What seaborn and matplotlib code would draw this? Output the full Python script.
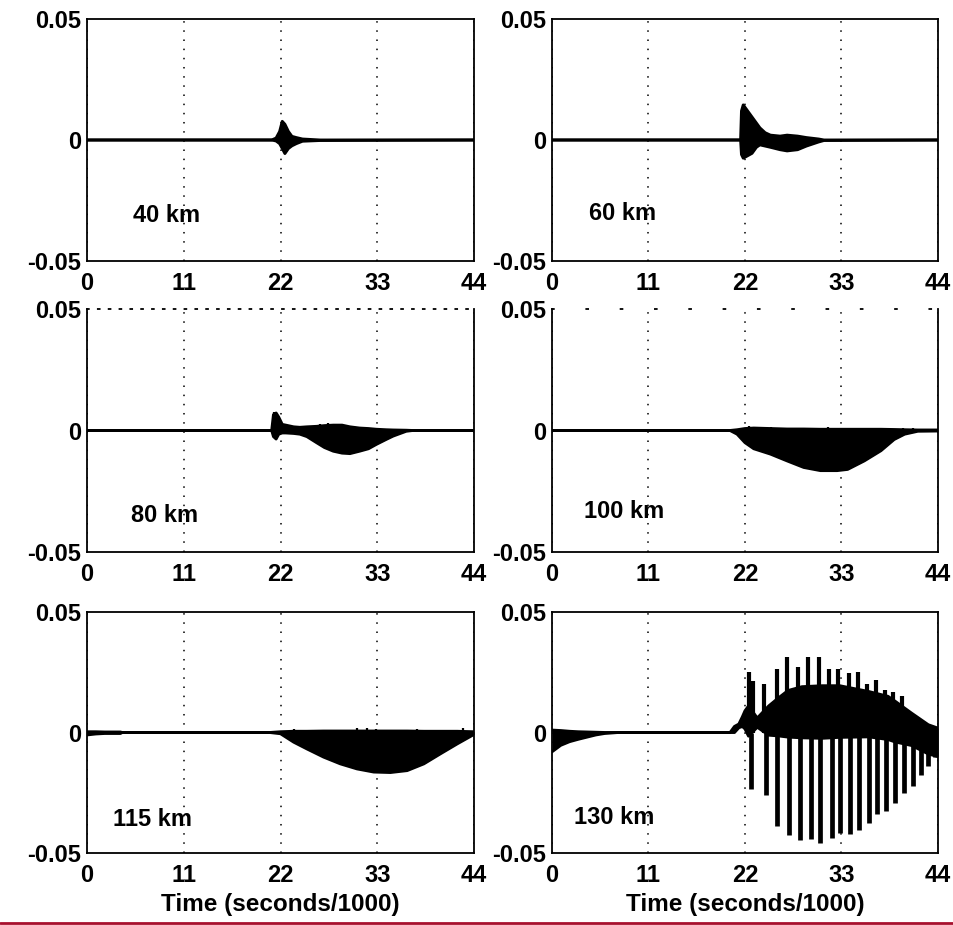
import numpy as np
import pandas as pd
import matplotlib
matplotlib.use("Agg")
import matplotlib.pyplot as plt
from matplotlib.lines import Line2D
import seaborn as sns

# ---------------- data ----------------
x_ticks = [0, 11, 22, 33, 44]
y_ticks = [-0.05, 0.0, 0.05]
y_tick_labels = ["-0.05", "0", "0.05"]
labels = ["40 km", "60 km", "80 km", "100 km", "115 km", "130 km"]
x_label = "Time (seconds/1000)"

# envelopes of the dense traces (time, upper edge, lower edge)
t40 = [0, 21.0, 21.5, 21.9, 22.2, 22.5, 22.9, 23.3, 23.8, 24.5, 26.5, 44]
hi40 = [0, 0, 0.0008, 0.0035, 0.0077, 0.0065, 0.0035, 0.0015, 0.001, 0.0004, 0, 0]
lo40 = [0, 0, -0.0004, -0.0015, -0.0035, -0.0056, -0.0035, -0.0024, -0.0015, -0.0005, -0.0002, 0]

t60 = [0, 21.5, 21.6, 21.8, 22.3, 22.8, 23.3, 23.7, 24.3, 24.9, 26.0, 26.8, 28.0, 29.0, 30.4, 31.0, 44]
hi60 = [0, 0, 0.012, 0.0145, 0.012, 0.0095, 0.007, 0.005, 0.003, 0.002, 0.0016, 0.002, 0.0016, 0.001, 0.0004, 0, 0]
lo60 = [0, 0, -0.006, -0.0075, -0.0065, -0.0055, -0.003, -0.002, -0.0025, -0.003, -0.004, -0.0045, -0.004, -0.0025, -0.0008, -0.0002, 0]

t80 = [0, 21.0, 21.2, 21.5, 21.8, 22.2, 22.6, 23.5, 24.2, 25.0, 26.1, 27.0, 28.0, 29.0, 29.9, 31.0, 32.0, 32.9, 34.0, 34.8, 36.3, 37.0, 44]
hi80 = [0, 0, 0.0065, 0.0072, 0.0055, 0.0025, 0.0022, 0.0015, 0.0013, 0.0015, 0.0017, 0.002, 0.0022, 0.0022, 0.0015, 0.001, 0.0008, 0.0005, 0.0003, 0.0002, 0.0001, 0, 0]
lo80 = [0, 0, -0.0025, -0.0035, -0.0015, -0.001, -0.001, -0.0012, -0.0015, -0.0025, -0.005, -0.007, -0.0085, -0.0093, -0.0095, -0.0085, -0.0075, -0.0057, -0.0037, -0.0023, -0.0003, 0, 0]

t100 = [0, 20.3, 21.1, 22.0, 23.0, 24.9, 26.8, 28.7, 30.6, 32.5, 33.7, 35.6, 37.5, 39.0, 40.2, 41.7, 44]
hi100 = [0, 0, 0.0003, 0.0008, 0.001, 0.0008, 0.0006, 0.0006, 0.0005, 0.0005, 0.0005, 0.0005, 0.0005, 0.0004, 0.0003, 0.0002, 0.0002]
lo100 = [0, 0, -0.0015, -0.005, -0.0075, -0.0097, -0.0125, -0.0152, -0.0165, -0.0165, -0.016, -0.0125, -0.0083, -0.0037, -0.0015, -0.0003, -0.0002]

t115 = [0, 1, 2, 3, 3.8, 4.0, 20.8, 22.0, 23.5, 25.0, 26.9, 28.8, 30.7, 32.6, 34.5, 36.4, 38.3, 40.2, 42.1, 44]
hi115 = [0.0003, 0.0003, 0.0002, 0.0002, 0.0002, 0, 0, 0.0003, 0.0005, 0.0005, 0.0006, 0.0006, 0.0006, 0.0006, 0.0006, 0.0006, 0.0005, 0.0005, 0.0005, 0.0003]
lo115 = [-0.001, -0.0006, -0.0004, -0.0004, -0.0004, 0, 0, -0.0005, -0.004, -0.0068, -0.0102, -0.013, -0.0151, -0.0164, -0.0166, -0.0158, -0.013, -0.0088, -0.0047, -0.0008]

t130 = [0, 1, 2, 3, 4, 5, 6, 7.5, 20.3, 20.8, 21.3, 21.7, 22.0, 22.4, 23.4, 24.7, 25.8, 26.9, 28.5, 30.8, 32.8, 36.1, 38.3, 39.1, 41.0, 42.9, 44]
hi130 = [0.001, 0.0008, 0.0005, 0.0003, 0.0002, 0.0001, 0.0, 0.0, 0.0, 0.0025, 0.0035, 0.0065, 0.009, 0.011, 0.006, 0.011, 0.0143, 0.0174, 0.019, 0.0194, 0.0194, 0.017, 0.015, 0.013, 0.008, 0.0032, 0.0018]
lo130 = [-0.008, -0.0053, -0.0038, -0.0028, -0.0019, -0.001, -0.0004, 0.0, 0.0, 0.0, 0.002, 0.0025, 0.0015, -0.0015, 0.0022, -0.0011, -0.0014, -0.0019, -0.0022, -0.0024, -0.002, -0.0018, -0.0029, -0.0039, -0.0054, -0.0089, -0.01]

# individual large swings of the 130 km trace
up130_t = [22.4, 22.9, 24.2, 25.6, 26.8, 28.0, 29.2, 30.4, 31.6, 32.6, 33.8, 34.9, 35.9, 36.9, 38.0, 38.9, 39.9]
up130_v = [0.0252, 0.0215, 0.0202, 0.0265, 0.0314, 0.0271, 0.0314, 0.0314, 0.0265, 0.0265, 0.0245, 0.0252, 0.0202, 0.0217, 0.0178, 0.0166, 0.0152]
lo130_t = [22.7, 24.4, 25.7, 27.05, 28.3, 29.5, 30.6, 31.9, 32.8, 34.0, 35.0, 36.1, 37.1, 38.1, 39.1, 40.1, 41.1, 42.1, 42.9, 43.7]
lo130_v = [-0.0234, -0.0261, -0.039, -0.0427, -0.0445, -0.0441, -0.0458, -0.0438, -0.0415, -0.042, -0.0405, -0.0375, -0.0337, -0.0324, -0.0293, -0.025, -0.0224, -0.0175, -0.0141, -0.0101]

# small spikes on the upper edge of the 80 / 100 / 115 km traces
up80_t = [21.3, 26.5, 27.4, 28.4, 29.5, 30.3]
up80_v = [0.0075, 0.0028, 0.003, 0.0028, 0.0024, 0.0018]
up100_t = [22.4, 23.6, 25.0, 26.4, 28.0, 29.9, 31.5, 33.2, 34.9, 36.6, 40.0, 41.2]
up100_v = [0.0018, 0.0012, 0.0014, 0.0012, 0.0008, 0.0012, 0.0016, 0.0012, 0.001, 0.0008, 0.001, 0.0012]
up115_t = [23.5, 30.7, 31.8, 32.9, 37.5, 42.8]
up115_v = [0.0014, 0.0018, 0.0018, 0.0014, 0.0014, 0.0018]
small_spikes = {2: (up80_t, up80_v), 3: (up100_t, up100_v), 4: (up115_t, up115_v)}

# label anchor (time, amplitude) for each panel
label_t = [5.2, 4.25, 4.97, 3.65, 3.0, 2.5]
label_v = [-0.031, -0.0303, -0.0348, -0.0334, -0.0363, -0.0352]

traces = [(t40, hi40, lo40), (t60, hi60, lo60), (t80, hi80, lo80),
          (t100, hi100, lo100), (t115, hi115, lo115), (t130, hi130, lo130)]

# ---------------- styling ----------------
sns.set_style("white")
plt.rcParams["font.family"] = ["Liberation Sans", "DejaVu Sans"]
plt.rcParams["font.weight"] = "bold"
plt.rcParams["text.color"] = "black"
plt.rcParams["xtick.color"] = "black"
plt.rcParams["ytick.color"] = "black"
plt.rcParams["axes.labelcolor"] = "black"

W, H = 954, 925
fig = plt.figure(figsize=(W / 100, H / 100), dpi=100)

col_px = [(87, 474), (552, 938)]
row_px = [(19, 261), (309, 552), (612, 853)]

LW = 2.1
FS = 17

for i, (t, hi, lo) in enumerate(traces):
    r, c = divmod(i, 2)
    x0, x1 = col_px[c]
    y0, y1 = row_px[r]
    ax = fig.add_axes([x0 / W, (H - y1) / H, (x1 - x0) / W, (y1 - y0) / H])

    ax.fill_between(t, lo, hi, color="black", lw=0, zorder=3)
    df = pd.DataFrame({"t": t, "hi": hi, "lo": lo})
    sns.lineplot(data=df, x="t", y="hi", ax=ax, color="black", lw=LW,
                 estimator=None, sort=False, zorder=4)
    sns.lineplot(data=df, x="t", y="lo", ax=ax, color="black", lw=LW,
                 estimator=None, sort=False, zorder=4)

    if i in small_spikes:
        st, sv = small_spikes[i]
        ax.vlines(st, 0.0, sv, color="black", lw=1.6, zorder=4)

    if i == 5:
        ax.vlines(up130_t, 0.0, up130_v, color="black", lw=3.0, zorder=4)
        ax.vlines(lo130_t, lo130_v, 0.0, color="black", lw=3.4, zorder=4)

    ax.set_xlim(0, 44)
    ax.set_ylim(-0.05, 0.05)
    ax.set_xticks(x_ticks)
    ax.set_xticklabels([str(v) for v in x_ticks])
    ax.set_yticks(y_ticks)
    ax.set_yticklabels(y_tick_labels)
    ax.tick_params(axis="x", length=0, pad=8, labelsize=FS, colors="black")
    ax.tick_params(axis="y", length=0, pad=4, labelsize=FS, colors="black")
    for lab in ax.get_xticklabels() + ax.get_yticklabels():
        lab.set_fontweight("bold")

    ax.xaxis.grid(True, linestyle=(0, (1, 5)), color="black", lw=1.1)
    ax.yaxis.grid(False)
    ax.set_axisbelow(True)
    for s in ax.spines.values():
        s.set_color("black")
        s.set_linewidth(1.3)
        s.set_visible(True)
    if r == 1:
        ax.spines["top"].set_linestyle((0, (1, 5)) if c == 0 else (0, (1, 18)))

    ax.set_ylabel("")
    if r == 2:
        ax.set_xlabel(x_label, fontsize=FS + 0.5, fontweight="bold",
                      labelpad=4, color="black")
    else:
        ax.set_xlabel("")

    ax.text(label_t[i], label_v[i], labels[i], ha="left", va="center",
            fontsize=FS, fontweight="bold", color="black", zorder=5)

fig.add_artist(Line2D([0, 1], [2.2 / H, 2.2 / H], transform=fig.transFigure,
                      color="#a8102e", lw=2.0))

fig.savefig("out.png", dpi=100)
